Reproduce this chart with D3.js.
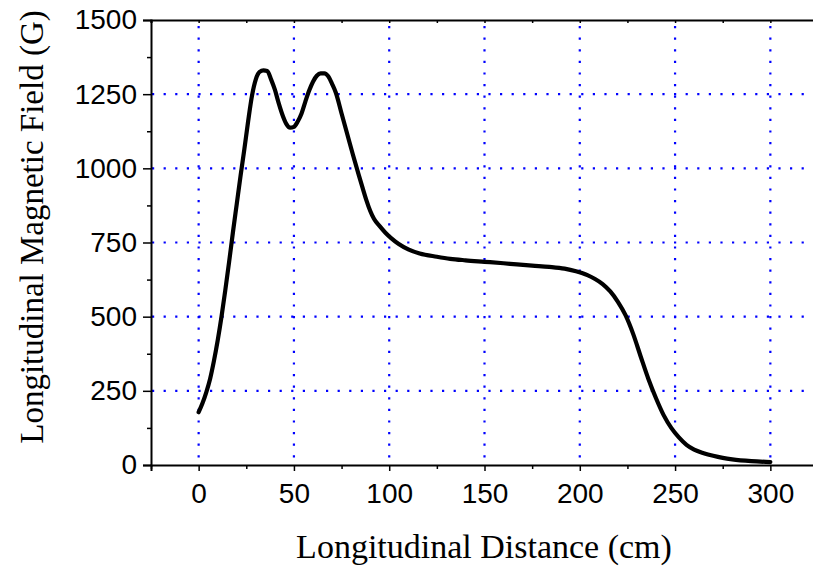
<!DOCTYPE html>
<html>
<head>
<meta charset="utf-8">
<script src="https://cdn.jsdelivr.net/npm/d3@7"></script>
<style>
  html, body { margin: 0; padding: 0; background: #fff; }
  svg { display: block; }
</style>
</head>
<body>
<svg id="chart" width="813" height="566"></svg>
<script>
// Data
const distance = [0, 2, 4, 6, 8, 10, 12, 14, 16, 18, 20, 22, 24, 26, 28, 30, 32, 34, 36, 38, 40, 42, 44, 46, 48, 50, 52, 54, 56, 58, 60, 62, 64, 66, 68, 70, 72, 75, 78, 81, 84, 86, 88, 90, 92, 95, 98, 101, 105, 110, 116, 125, 132, 140, 150, 160, 167, 175, 184, 192, 198, 204, 208, 212, 216, 220, 224, 228, 232, 236, 240, 244, 248, 252, 256, 260, 265, 270, 275, 280, 290, 300];
const field = [178, 208, 245, 290, 350, 420, 500, 590, 685, 785, 880, 975, 1065, 1160, 1245, 1300, 1325, 1330, 1328, 1300, 1265, 1220, 1180, 1150, 1137, 1140, 1158, 1185, 1225, 1262, 1292, 1312, 1320, 1320, 1310, 1285, 1255, 1185, 1115, 1045, 978, 935, 893, 857, 830, 805, 783, 765, 745, 727, 713, 702, 695, 690, 685, 680, 676, 672, 668, 662, 653, 640, 627, 610, 585, 550, 505, 442, 365, 290, 225, 168, 125, 93, 68, 52, 40, 31, 24, 19, 13, 10];
const xTicks = [0, 50, 100, 150, 200, 250, 300];
const xMinorTicks = [-25, 25, 75, 125, 175, 225, 275, 325];
const yTicks = [0, 250, 500, 750, 1000, 1250, 1500];
const yMinorTicks = [125, 375, 625, 875, 1125, 1375];
const xGrid = [0, 50, 100, 150, 200, 250, 300];
const yGrid = [250, 500, 750, 1000, 1250];
const xTitle = "Longitudinal Distance (cm)";
const yTitle = "Longitudinal Magnetic Field (G)";

const svg = d3.select("#chart");
const L = 151, R = 818, T = 20, B = 465;
const x = d3.scaleLinear().domain([-25, 325]).range([L, R]);
const y = d3.scaleLinear().domain([0, 1500]).range([B, T]);

const tickFont = "'Liberation Sans', Arial, sans-serif";
const titleFont = "'Liberation Serif', 'Times New Roman', serif";

// dotted grid
const grid = svg.append("g");
grid.selectAll("line.vx").data(xGrid).enter().append("line")
  .attr("x1", d => x(d)).attr("x2", d => x(d))
  .attr("y1", T + 6).attr("y2", B)
  .attr("stroke", "#0000ff").attr("stroke-width", 2.2)
  .attr("stroke-dasharray", "2.2 9.4");
grid.selectAll("line.hy").data(yGrid).enter().append("line")
  .attr("x1", L + 1).attr("x2", R)
  .attr("y1", d => y(d)).attr("y2", d => y(d))
  .attr("stroke", "#0000ff").attr("stroke-width", 2.2)
  .attr("stroke-dasharray", "2.2 9.4");

// curve
const pts = distance.map((d, i) => [d, field[i]]);
const line = d3.line().x(d => x(d[0])).y(d => y(d[1])).curve(d3.curveMonotoneX);
svg.append("path").datum(pts)
  .attr("d", line)
  .attr("fill", "none").attr("stroke", "#000").attr("stroke-width", 4.2)
  .attr("stroke-linejoin", "round").attr("stroke-linecap", "round");

// bottom axis
const xAxis = d3.axisBottom(x).tickValues(xTicks).tickSize(6).tickPadding(12)
  .tickFormat(d3.format("d"));
const gx = svg.append("g").attr("transform", `translate(0,${B})`).call(xAxis);
gx.select(".domain").attr("stroke-width", 2);
gx.selectAll(".tick line").attr("stroke-width", 1.5);
gx.selectAll(".tick text").attr("font-family", tickFont).attr("font-size", 28).attr("fill", "#000");
const xMinor = d3.axisBottom(x).tickValues(xMinorTicks).tickSize(4).tickFormat("");
const gxm = svg.append("g").attr("transform", `translate(0,${B})`).call(xMinor);
gxm.select(".domain").remove();
gxm.selectAll(".tick line").attr("stroke-width", 1.5);

// top axis (ticks inward)
const xTop = d3.axisTop(x).tickValues(xTicks.concat(xMinorTicks)).tickSize(-3).tickFormat("");
const gt = svg.append("g").attr("transform", `translate(0,${T})`).call(xTop);
gt.select(".domain").attr("stroke-width", 2);
gt.selectAll(".tick line").attr("stroke-width", 1.5);

// left axis
const yAxis = d3.axisLeft(y).tickValues(yTicks).tickSize(8).tickPadding(6)
  .tickFormat(d3.format("d"));
const gy = svg.append("g").attr("transform", `translate(${L},0)`).call(yAxis);
gy.select(".domain").attr("stroke-width", 2);
gy.selectAll(".tick line").attr("stroke-width", 1.5);
gy.selectAll(".tick text").attr("font-family", tickFont).attr("font-size", 28).attr("fill", "#000");
const yMinor = d3.axisLeft(y).tickValues(yMinorTicks).tickSize(4).tickFormat("");
const gym = svg.append("g").attr("transform", `translate(${L},0)`).call(yMinor);
gym.select(".domain").remove();
gym.selectAll(".tick line").attr("stroke-width", 1.5);

// titles
svg.append("text")
  .attr("x", 484).attr("y", 558)
  .attr("text-anchor", "middle")
  .attr("font-family", titleFont).attr("font-size", 34).attr("fill", "#000")
  .text(xTitle);
svg.append("text")
  .attr("transform", "translate(43,227) rotate(-90)")
  .attr("text-anchor", "middle")
  .attr("font-family", titleFont).attr("font-size", 33).attr("fill", "#000")
  .text(yTitle);
</script>
</body>
</html>
